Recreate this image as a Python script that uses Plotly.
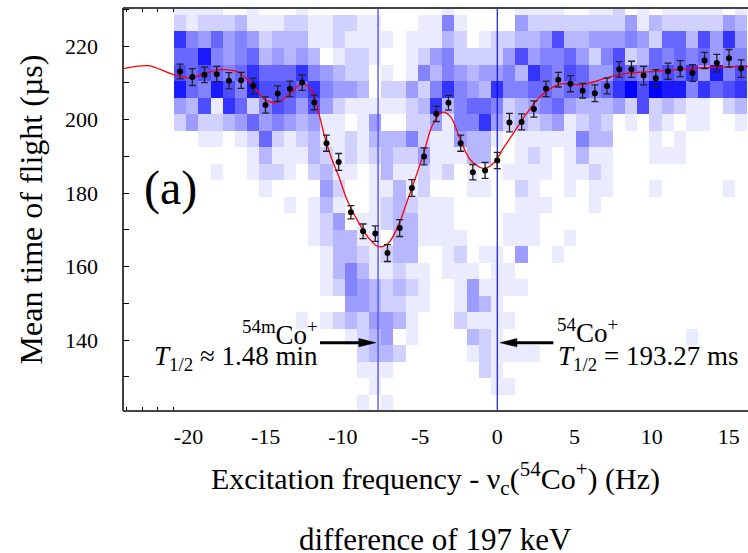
import plotly.graph_objects as go

# ---------------- data ----------------
# scan frequencies (Hz, relative to nu_c of 54Co+)
freq = [-20.54, -19.75, -18.96, -18.17, -17.38, -16.59, -15.80, -15.01, -14.22, -13.43,
        -12.64, -11.85, -11.06, -10.27, -9.48, -8.69, -7.90, -7.11, -6.32, -5.53,
        -4.74, -3.95, -3.16, -2.37, -1.58, -0.79, 0.00, 0.79, 1.58, 2.37,
        3.16, 3.95, 4.74, 5.53, 6.32, 7.11, 7.90, 8.69, 9.48, 10.27,
        11.06, 11.85, 12.64, 13.43, 14.22, 15.01, 15.80]

# mean time of flight (us) and its error
tof = [213.1, 211.6, 212.2, 212.4, 210.6, 210.7, 209.2, 204.0, 207.1, 208.4,
       210.1, 204.7, 193.6, 188.5, 174.8, 169.6, 169.0, 163.7, 170.5, 181.4,
       190.0, 201.6, 204.6, 193.6, 185.7, 186.2, 188.9, 199.2, 199.4, 202.9,
       208.4, 210.9, 209.8, 207.9, 207.2, 209.2, 213.7, 213.7, 212.0, 211.3,
       213.2, 213.9, 212.7, 216.1, 215.4, 216.7, 213.9]
tof_err = [2.0, 2.3, 2.1, 2.1, 2.2, 2.2, 2.1, 2.2, 2.1, 2.1,
           2.1, 2.0, 2.2, 2.3, 1.8, 2.0, 2.1, 2.3, 2.3, 2.3,
           2.3, 2.1, 2.0, 2.2, 2.1, 2.2, 2.2, 2.5, 2.2, 2.2,
           2.1, 2.0, 2.2, 2.0, 2.3, 2.2, 2.1, 2.2, 2.5, 2.3,
           2.2, 2.2, 2.3, 2.2, 2.4, 2.4, 2.4]

# fitted resonance curve
fit_freq = [-24.21, -22.59, -21.06, -19.76, -18.90, -17.82, -16.74, -15.77, -15.02, -14.26,
            -13.50, -12.64, -11.99, -11.56, -11.13, -10.70, -10.27, -9.73, -8.97, -8.37,
            -7.69, -7.03, -6.38, -5.95, -5.41, -4.76, -4.23, -3.58, -3.04, -2.39,
            -1.75, -0.88, -0.23, 0.41, 1.06, 1.92, 2.78, 3.65, 4.25, 5.48,
            6.56, 7.42, 8.50, 9.80, 11.09, 12.39, 13.90, 16.23]
fit_tof = [213.9, 214.7, 212.4, 211.4, 212.7, 213.6, 212.9, 209.0, 205.4, 204.7,
           206.8, 209.8, 207.7, 201.8, 194.6, 189.1, 184.6, 178.2, 171.9, 168.0,
           165.4, 166.5, 171.5, 176.4, 182.8, 190.9, 198.2, 202.0, 200.9, 194.6,
           189.1, 186.7, 188.2, 192.3, 196.4, 201.8, 206.3, 209.0, 209.8, 209.5,
           210.7, 211.8, 212.7, 213.0, 213.4, 213.9, 214.2, 214.5]

# time-of-flight histogram: bin centres (us) and counts per scan step
hist_tof = [230.75, 226.25, 221.75, 217.25, 212.75, 208.25, 203.75, 199.25, 194.75,
            190.25, 185.75, 181.25, 176.75, 172.25, 167.75, 163.25, 158.75, 154.25,
            149.75, 145.25, 140.75, 136.25, 131.75, 127.25, 122.75]
hist_rows = [
    "1111001000100000 0000001000001111 001120101111101",
    "2122231112211221 1000115100004222 222224132222243",
    "8546454233311211 1101113201223347 334445426637484",
    "6695456343430122 1001245222247455 642572365656455",
    "7676568666854322 0101535434453865 764476567684957",
    "9659759777685443 0224258543855665 66568a7a9958678",
    "4371862576474211 1112383566523456 433342723211023",
    "2422346454341101 4002241558423234 123201021011001",
    "0011012621231121 3335211433101111 153300010100000",
    "0000001311132121 2322411133001210 131100011100000",
    "0001001221023110 1311212010011110 112100000000000",
    "0000000100004200 1131200011002100 101100010000010",
    "0000000001013100 1232111000001110 001000000000000",
    "0000000000012401 1233111000011100 000000000000000",
    "0000000000012331 1033111100011100 100000000000000",
    "0000000000001332 1233001201104001 000000000000000",
    "0000000000001353 1121101110110000 000000000000000",
    "0000000000001254 3232100141111000 000000000000000",
    "0000000000000044 3221100143100000 000000000000000",
    "0000000000101232 4431000211110000 000000000000000",
    "0000000000000012 3401000032100000 000000000010000",
    "0000000000000002 3320000012111100 000000000000000",
    "0000000000000001 1100000002100000 000000000000000",
    "0000000000000000 1000000000110000 000000000000000",
    "0000000000000001 0100000000000000 000000000000000",
]

isomer_freq = -7.72   # 54mCo+
ground_freq = 0.0     # 54Co+
label_tof = 139.3     # height of the arrows

x_tick_vals = [-20, -15, -10, -5, 0, 5, 10, 15]
x_tick_text = ["-20", "-15", "-10", "-5", "0", "5", "10", "15"]
y_tick_vals = [140, 160, 180, 200, 220]

X_RANGE = [-24.24, 16.24]
Y_RANGE = [120.7, 230.4]

# ---------------- figure ----------------
W, H = 748, 553
L, T, PH = 123, 8, 403
PW = W - L
FONT = "Liberation Serif"


def px(xp):
    return (xp - L) / PW


def py(yp):
    return (T + PH - yp) / PH


z = [[int(c, 16) for c in row.replace(" ", "")] for row in hist_rows]

fig = go.Figure()
fig.add_trace(go.Heatmap(
    x=freq, y=hist_tof, z=z, zmin=0, zmax=10, zsmooth=False,
    colorscale=[[0, "#ffffff"], [0.1, "#ebebff"], [1, "#0000ff"]],
    showscale=False, hoverinfo="skip"))

fig.add_trace(go.Scatter(x=[isomer_freq, isomer_freq], y=Y_RANGE, mode="lines",
                         line=dict(color="#4a4aff", width=1.3), hoverinfo="skip"))
fig.add_trace(go.Scatter(x=[ground_freq, ground_freq], y=Y_RANGE, mode="lines",
                         line=dict(color="#0000e6", width=1.1), hoverinfo="skip"))

fig.add_trace(go.Scatter(x=fit_freq, y=fit_tof, mode="lines",
                         line=dict(color="#ff0000", width=1.3, shape="spline", smoothing=0.9)))

fig.add_trace(go.Scatter(
    x=freq, y=tof, mode="markers",
    marker=dict(color="black", size=6),
    error_y=dict(type="data", array=tof_err, color="#222222", thickness=1.3, width=3.5)))

axis_font = dict(family=FONT, size=22, color="black")

fig.update_xaxes(
    range=X_RANGE, showgrid=False, zeroline=False, showline=False, automargin=False,
    layer="below traces",
    tickmode="array", tickvals=x_tick_vals, ticktext=x_tick_text,
    ticks="inside", ticklen=6, tickwidth=1, tickcolor="black", mirror="ticks",
    minor=dict(dtick=1, tick0=0, ticks="inside", ticklen=4, tickcolor="black", showgrid=False),
    tickfont=axis_font, ticklabelstandoff=10,
    title=dict(text="Excitation frequency - ν<sub>c</sub>(<sup>54</sup>Co<sup>+</sup>) (Hz)",
               font=dict(family=FONT, size=30, color="black"), standoff=19))

fig.update_yaxes(
    range=Y_RANGE, showgrid=False, zeroline=False, showline=False, automargin=False,
    layer="below traces",
    tickmode="array", tickvals=y_tick_vals,
    ticks="inside", ticklen=6, tickwidth=1, tickcolor="black",
    minor=dict(dtick=10, tick0=0, ticks="inside", ticklen=6, tickcolor="black", showgrid=False),
    tickfont=axis_font, ticklabelstandoff=24,
    title=dict(text="Mean time of flight (µs)",
               font=dict(family=FONT, size=32, color="black"), standoff=12))

# frame: left, bottom, top (the right side is cut off in the original)
for x0, y0, x1, y1, col, wd in [(0, 0, 0, 1, "black", 1.5),
                                (0, 0, 1, 0, "#444444", 2),
                                (0, 1, 1, 1, "#444444", 2)]:
    fig.add_shape(type="line", xref="paper", yref="paper", x0=x0, y0=y0, x1=x1, y1=y1,
                  line=dict(color=col, width=wd), layer="above")

# arrows pointing at the two resonances
shaft_gap = 0.6
for tail, head in [(-11.48, isomer_freq - 0.14), (3.63, ground_freq + 0.17)]:
    direction = 1 if head > tail else -1
    fig.add_shape(type="line", xref="x", yref="y", x0=tail, y0=label_tof,
                  x1=head - direction * shaft_gap, y1=label_tof,
                  line=dict(color="black", width=3), layer="above")
    fig.add_shape(type="path", xref="x", yref="y", xsizemode="pixel", ysizemode="pixel",
                  xanchor=head, yanchor=label_tof,
                  path=f"M0,0 L{-17 * direction},-4.2 L{-17 * direction},4.2 Z",
                  fillcolor="black", line=dict(color="black", width=0.5), layer="above")

txt = dict(family=FONT, size=27, color="black")
annotations = [
    dict(text="(a)", x=px(170), y=py(188), xanchor="center", yanchor="middle",
         font=dict(family=FONT, size=48, color="black")),
    dict(text="<sup>54m</sup>Co<sup>+</sup>", x=px(320), y=py(352), xanchor="right",
         yanchor="bottom", font=txt),
    dict(text="<i>T</i><sub>1/2</sub> ≈ 1.48 min", x=px(320), y=py(377), xanchor="right",
         yanchor="bottom", font=txt),
    dict(text="<sup>54</sup>Co<sup>+</sup>", x=px(555), y=py(350), xanchor="left",
         yanchor="bottom", font=txt),
    dict(text="<i>T</i><sub>1/2</sub> = 193.27 ms", x=px(556), y=py(377), xanchor="left",
         yanchor="bottom", font=txt),
    dict(text="difference of 197 keV", x=px(435), y=py(539), xanchor="center",
         yanchor="middle", font=dict(family=FONT, size=31, color="black")),
]
for a in annotations:
    a.update(xref="paper", yref="paper", showarrow=False)
fig.update_layout(annotations=annotations)

fig.update_layout(
    width=W, height=H, autosize=False,
    margin=dict(l=L, r=0, t=T, b=H - T - PH, pad=0),
    paper_bgcolor="white", plot_bgcolor="white",
    showlegend=False, hovermode=False,
    font=dict(family=FONT, color="black"))

# the page's default 8px body margin would shift the whole figure; remove it
fig.write_html("out.html",
               config={"displayModeBar": False, "staticPlot": True},
               post_script="document.body.style.margin='0';document.body.style.overflow='hidden';")
